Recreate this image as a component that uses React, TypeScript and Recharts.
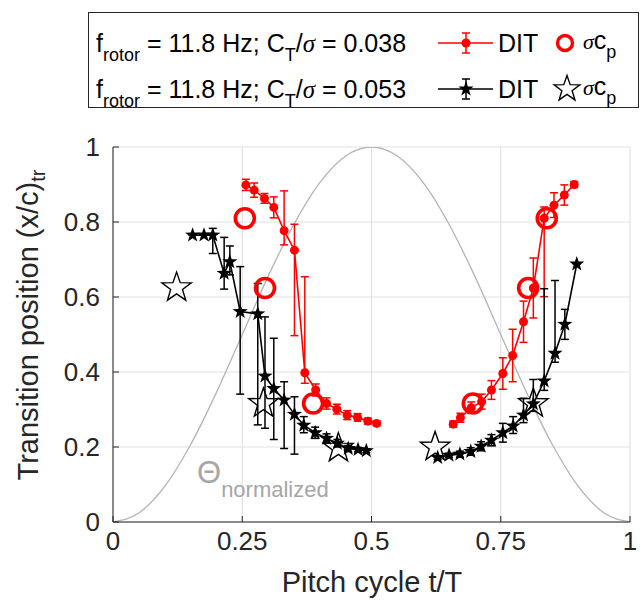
import React from 'react';
import { ComposedChart, Line, Scatter, XAxis, YAxis, CartesianGrid, ErrorBar } from 'recharts';

const FONT = '"Liberation Sans", Arial, Helvetica, sans-serif';
const SERIF = '"Liberation Serif", "DejaVu Serif", serif';
const AX = '#262626';
const RED = '#ff0000';

const xTicks = [0, 0.25, 0.5, 0.75, 1];
const yTicks = [0, 0.2, 0.4, 0.6, 0.8, 1];

// normalized pitch angle, read every 0.05 of the cycle
const thetaT = [0, 0.05, 0.1, 0.15, 0.2, 0.25, 0.3, 0.35, 0.4, 0.45, 0.5, 0.55, 0.6, 0.65, 0.7, 0.75, 0.8, 0.85, 0.9, 0.95, 1];
const thetaV = [0, 0.024, 0.095, 0.206, 0.345, 0.5, 0.655, 0.794, 0.905, 0.976, 1, 0.976, 0.905, 0.794, 0.655, 0.5, 0.345, 0.206, 0.095, 0.024, 0];

// DIT, CT/sigma = 0.038 (red)
const redLeftT = [0.257, 0.273, 0.293, 0.311, 0.331, 0.351, 0.371, 0.392, 0.413, 0.433, 0.453, 0.473, 0.493, 0.51];
const redLeftV = [0.899, 0.885, 0.863, 0.839, 0.777, 0.725, 0.398, 0.352, 0.316, 0.301, 0.285, 0.279, 0.269, 0.263];
const redLeftLo = [0.015, 0.019, 0.013, 0.028, 0.038, 0.228, 0.028, 0.016, 0.015, 0.013, 0.012, 0.01, 0.008, 0.006];
const redLeftHi = [0.015, 0.019, 0.013, 0.028, 0.106, 0.069, 0.256, 0.016, 0.015, 0.013, 0.012, 0.01, 0.008, 0.006];

const redRightT = [0.658, 0.672, 0.693, 0.713, 0.732, 0.754, 0.773, 0.794, 0.813, 0.834, 0.853, 0.873, 0.892];
const redRightV = [0.261, 0.278, 0.305, 0.321, 0.352, 0.396, 0.444, 0.534, 0.624, 0.81, 0.845, 0.872, 0.9];
const redRightLo = [0.008, 0.012, 0.015, 0.02, 0.025, 0.042, 0.07, 0.055, 0.08, 0.209, 0.033, 0.027, 0.008];
const redRightHi = [0.008, 0.012, 0.015, 0.02, 0.025, 0.042, 0.07, 0.055, 0.08, 0.03, 0.033, 0.027, 0.008];

// DIT, CT/sigma = 0.053 (black)
const blackLeftT = [0.154, 0.176, 0.193, 0.215, 0.226, 0.246, 0.28, 0.294, 0.311, 0.331, 0.351, 0.369, 0.391, 0.413, 0.434, 0.455, 0.474, 0.49];
const blackLeftV = [0.765, 0.765, 0.765, 0.663, 0.694, 0.561, 0.555, 0.389, 0.356, 0.325, 0.287, 0.258, 0.238, 0.223, 0.21, 0.196, 0.193, 0.19];
const blackLeftLo = [0, 0, 0.049, 0.042, 0.035, 0.22, 0.296, 0.139, 0.136, 0.129, 0.106, 0.02, 0.015, 0.012, 0.01, 0.008, 0.006, 0.005];
const blackLeftHi = [0, 0, 0.018, 0.096, 0.042, 0.12, 0.081, 0.158, 0.134, 0.049, 0.047, 0.023, 0.015, 0.012, 0.01, 0.008, 0.006, 0.005];

const blackRightT = [0.628, 0.65, 0.671, 0.692, 0.712, 0.732, 0.754, 0.774, 0.794, 0.813, 0.834, 0.855, 0.874, 0.897];
const blackRightV = [0.172, 0.178, 0.181, 0.188, 0.202, 0.218, 0.238, 0.256, 0.285, 0.315, 0.376, 0.45, 0.527, 0.688];
const blackRightLo = [0.005, 0.005, 0.008, 0.01, 0.012, 0.015, 0.025, 0.02, 0.02, 0.02, 0.025, 0.024, 0.04, 0];
const blackRightHi = [0.005, 0.005, 0.008, 0.01, 0.012, 0.015, 0.025, 0.025, 0.045, 0.065, 0.246, 0.194, 0.04, 0];

// sigma c_p estimates
const ringT = [0.255, 0.294, 0.387, 0.696, 0.803, 0.839];
const ringV = [0.81, 0.624, 0.316, 0.316, 0.624, 0.81];
const hollowStarT = [0.123, 0.291, 0.436, 0.623, 0.813];
const hollowStarV = [0.625, 0.316, 0.197, 0.2, 0.316];

const rows = (t: number[], v: number[], lo?: number[], hi?: number[]) =>
  t.map((x, i) => ({ t: x, v: v[i], err: lo && hi ? [lo[i], hi[i]] : undefined }));

const theta = rows(thetaT, thetaV);
const redLeft = rows(redLeftT, redLeftV, redLeftLo, redLeftHi);
const redRight = rows(redRightT, redRightV, redRightLo, redRightHi);
const blackLeft = rows(blackLeftT, blackLeftV, blackLeftLo, blackLeftHi);
const blackRight = rows(blackRightT, blackRightV, blackRightLo, blackRightHi);
const rings = rows(ringT, ringV);
const hollowStars = rows(hollowStarT, hollowStarV);

function starPath(cx: number, cy: number, R: number, r: number) {
  let d = '';
  for (let k = 0; k < 10; k++) {
    const rad = k % 2 === 0 ? R : r;
    const a = -Math.PI / 2 + (k * Math.PI) / 5;
    d += (k ? 'L' : 'M') + (cx + rad * Math.cos(a)).toFixed(2) + ',' + (cy + rad * Math.sin(a)).toFixed(2);
  }
  return d + 'Z';
}

const RedDot = (p: any) => <circle key={p.index} cx={p.cx} cy={p.cy} r={4.5} fill={RED} />;
const BlackStar = (p: any) => <path key={p.index} d={starPath(p.cx, p.cy, 8, 3.2)} fill="#000" />;
const Ring = (p: any) => <circle cx={p.cx} cy={p.cy} r={9.5} fill="none" stroke={RED} strokeWidth={3.6} />;
const HollowStar = (p: any) => (
  <path d={starPath(p.cx, p.cy, 15.5, 6.2)} fill="none" stroke="#000" strokeWidth={1.4} strokeLinejoin="miter" />
);

const XLabel = () => (
  <text x={372} y={592} textAnchor="middle" fontSize={29} fontFamily={FONT} fill={AX}>
    Pitch cycle t/T
  </text>
);

const YLabel = () => (
  <text transform="rotate(-90)" x={-325} y={38} textAnchor="middle" fontSize={29} fontFamily={FONT} fill={AX}>
    Transition position (x/c)
    <tspan fontSize={20} dy={7}>tr</tspan>
  </text>
);

function LegendRow({ y, ct }: { y: number; ct: string }) {
  return (
    <text x={96} y={y} fontSize={25} fontFamily={FONT} fill="#000">
      f<tspan fontSize={18} dy={9}>rotor</tspan>
      <tspan dy={-9}>{' = 11.8 Hz; C'}</tspan>
      <tspan fontSize={18} dy={9}>T</tspan>
      <tspan dy={-9}>/</tspan>
      <tspan fontFamily={SERIF} fontStyle="italic">σ</tspan>
      <tspan>{' = ' + ct}</tspan>
    </text>
  );
}

function SigmaCp({ x, y }: { x: number; y: number }) {
  return (
    <text x={x} y={y} fontSize={25} fontFamily={FONT} fill="#000">
      <tspan fontFamily={SERIF} fontStyle="italic" fontSize={22}>σ</tspan>
      <tspan>c</tspan>
      <tspan fontSize={18} dy={9}>p</tspan>
    </text>
  );
}

function Overlay() {
  return (
    <svg width={643} height={605} style={{ position: 'absolute', left: 0, top: 0, pointerEvents: 'none' }}>
      <rect x={88.5} y={12.5} width={550} height={95} fill="#fff" stroke={AX} strokeWidth={1} />
      <LegendRow y={52} ct="0.038" />
      <line x1={438} x2={493} y1={43} y2={43} stroke={RED} strokeWidth={1.5} />
      <line x1={466} x2={466} y1={33} y2={53} stroke={RED} strokeWidth={1.5} />
      <line x1={462} x2={470} y1={33} y2={33} stroke={RED} strokeWidth={1.5} />
      <line x1={462} x2={470} y1={53} y2={53} stroke={RED} strokeWidth={1.5} />
      <circle cx={466} cy={43} r={4.5} fill={RED} />
      <text x={498} y={52} fontSize={25} fontFamily={FONT}>DIT</text>
      <circle cx={565} cy={43} r={7.5} fill="none" stroke={RED} strokeWidth={3.4} />
      <SigmaCp x={583} y={49} />

      <LegendRow y={98} ct="0.053" />
      <line x1={438} x2={493} y1={89} y2={89} stroke="#000" strokeWidth={1.5} />
      <line x1={466} x2={466} y1={79} y2={99} stroke="#000" strokeWidth={1.5} />
      <line x1={462} x2={470} y1={79} y2={79} stroke="#000" strokeWidth={1.5} />
      <line x1={462} x2={470} y1={99} y2={99} stroke="#000" strokeWidth={1.5} />
      <path d={starPath(466, 89, 8, 3.2)} fill="#000" />
      <text x={498} y={98} fontSize={25} fontFamily={FONT}>DIT</text>
      <path d={starPath(567, 89, 13.5, 5.4)} fill="none" stroke="#000" strokeWidth={1.4} />
      <SigmaCp x={583} y={95} />

      <text x={197} y={483} fill="#a6a6a6" fontSize={31} fontFamily={FONT}>
        Θ<tspan fontSize={22} dy={14}>normalized</tspan>
      </text>
    </svg>
  );
}

export default function App() {
  const tickStyle = { fill: AX, fontSize: 26, fontFamily: FONT };
  return (
    <div style={{ position: 'absolute', left: 0, top: 0, width: 643, height: 605, background: '#fff' }}>
      <ComposedChart width={643} height={605} margin={{ top: 147, right: 13, bottom: 0, left: 0 }}>
        <CartesianGrid stroke="#e2e2e2" strokeWidth={1.2} />
        <XAxis
          type="number"
          dataKey="t"
          domain={[0, 1]}
          ticks={xTicks}
          allowDataOverflow
          height={83}
          stroke={AX}
          tickSize={-6}
          tickMargin={16}
          tick={tickStyle}
          tickFormatter={(v: number) => String(v)}
          label={<XLabel />}
        />
        <XAxis xAxisId="top" orientation="top" type="number" dataKey="t" domain={[0, 1]} ticks={xTicks} allowDataOverflow height={0} stroke={AX} tickSize={-6} tick={false} />
        <YAxis
          type="number"
          dataKey="v"
          domain={[0, 1]}
          ticks={yTicks}
          allowDataOverflow
          width={113}
          stroke={AX}
          tickSize={-6}
          tickMargin={19}
          tick={tickStyle}
          tickFormatter={(v: number) => String(v)}
          label={<YLabel />}
        />
        <YAxis yAxisId="right" orientation="right" type="number" dataKey="v" domain={[0, 1]} ticks={yTicks} allowDataOverflow width={0} stroke={AX} tickSize={-6} tick={false} />

        <Line data={theta} dataKey="v" type="monotone" stroke="#b4b4b4" strokeWidth={1.3} dot={false} isAnimationActive={false} />

        <Line data={redLeft} dataKey="v" type="linear" stroke={RED} strokeWidth={1.6} dot={RedDot} isAnimationActive={false}>
          <ErrorBar dataKey="err" direction="y" width={4} stroke={RED} strokeWidth={1.5} isAnimationActive={false} />
        </Line>
        <Line data={redRight} dataKey="v" type="linear" stroke={RED} strokeWidth={1.6} dot={RedDot} isAnimationActive={false}>
          <ErrorBar dataKey="err" direction="y" width={4} stroke={RED} strokeWidth={1.5} isAnimationActive={false} />
        </Line>
        <Line data={blackLeft} dataKey="v" type="linear" stroke="#000" strokeWidth={1.6} dot={BlackStar} isAnimationActive={false}>
          <ErrorBar dataKey="err" direction="y" width={4} stroke="#000" strokeWidth={1.5} isAnimationActive={false} />
        </Line>
        <Line data={blackRight} dataKey="v" type="linear" stroke="#000" strokeWidth={1.6} dot={BlackStar} isAnimationActive={false}>
          <ErrorBar dataKey="err" direction="y" width={4} stroke="#000" strokeWidth={1.5} isAnimationActive={false} />
        </Line>

        <Scatter data={rings} dataKey="v" shape={Ring} isAnimationActive={false} />
        <Scatter data={hollowStars} dataKey="v" shape={HollowStar} isAnimationActive={false} />
      </ComposedChart>
      <Overlay />
    </div>
  );
}
